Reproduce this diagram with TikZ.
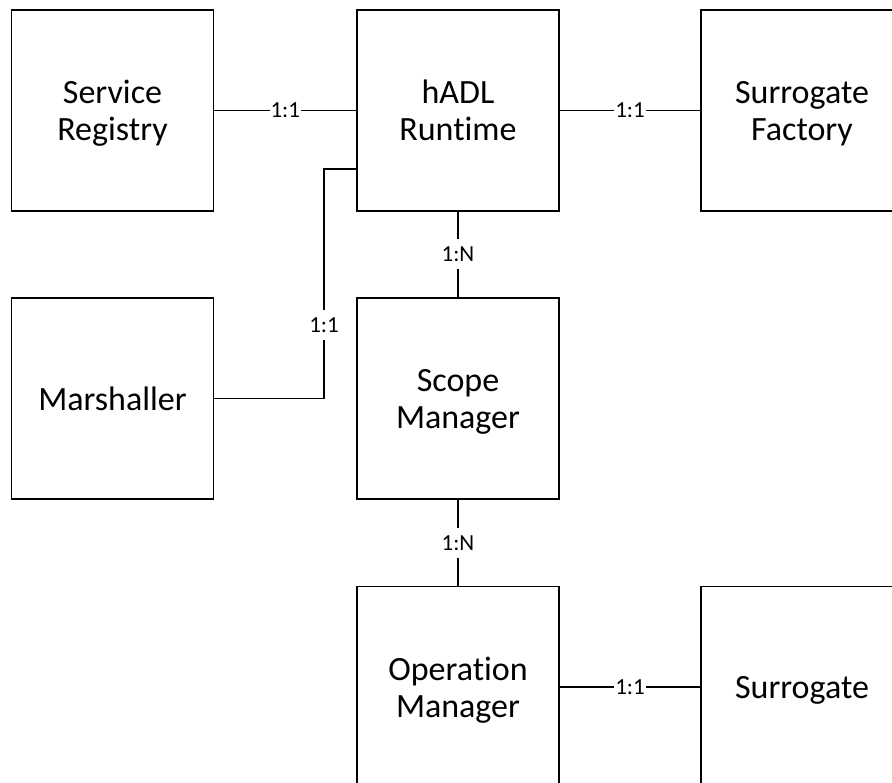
\documentclass[tikz,border=0pt]{standalone}
\usepackage{fontspec}
\setmainfont{Carlito}[Ligatures=NoCommon]
\tikzset{
  entity/.style={draw=black, line width=1.8pt, minimum width=202pt, minimum height=201pt,
    align=center, inner sep=0pt, text depth=0pt, font=\fontsize{34}{37}\selectfont},
  link/.style={line width=1.8pt, draw=black},
  card/.style={fill=white, inner xsep=1pt, inner ysep=0pt, minimum height=30pt,
    font=\fontsize{23}{25}\selectfont}
}
\begin{document}
\begin{tikzpicture}[x=1pt, y=-1pt]
  \clip (0,0) rectangle (892,783);
  % top row
  \node[entity] (registry) at (112.5,110.5) {Service\\Registry};
  \node[entity] (runtime) at (458,110.5) {hADL\\Runtime};
  \node[entity] (factory) at (802,110.5) {Surrogate\\Factory};
  % middle row
  \node[entity] (marshaller) at (112.5,398.5) {Marshaller};
  \node[entity] (scope) at (458,398.5) {Scope\\Manager};
  % bottom row
  \node[entity] (operation) at (458,687) {Operation\\Manager};
  \node[entity] (surrogate) at (802,687) {Surrogate};

  \draw[link] (registry) -- node[card] {1:1} (runtime);
  \draw[link] (runtime) -- node[card] {1:1} (factory);
  \draw[link] (runtime) -- node[card] {1:N} (scope);
  \draw[link] (scope) -- node[card] {1:N} (operation);
  \draw[link] (operation) -- node[card] {1:1} (surrogate);

  % marshaller hooks into the runtime from below the registry link
  \coordinate (bend) at (324,169);
  \draw[link] (marshaller.east) -| node[card, pos=0.66] {1:1} (bend) -- (bend -| runtime.west);
\end{tikzpicture}
\end{document}
